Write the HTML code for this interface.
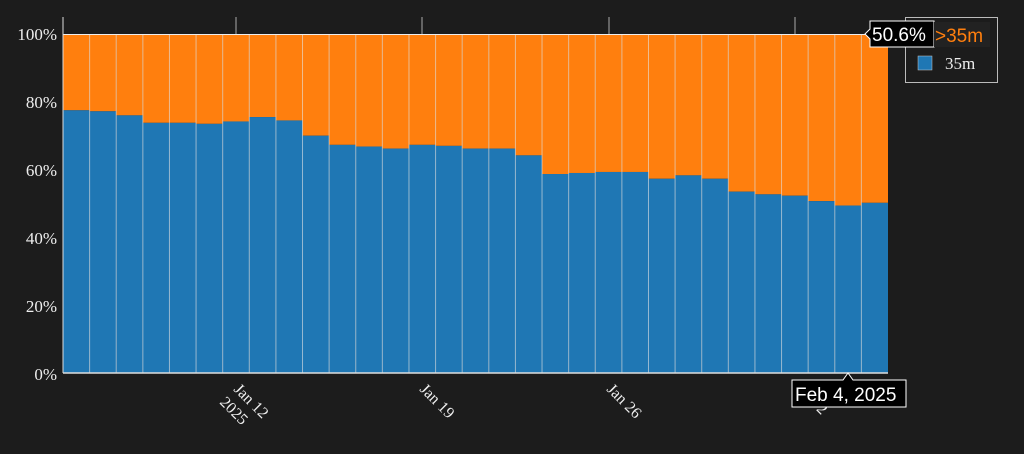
<!DOCTYPE html>
<html><head><meta charset="utf-8"><style>
html,body{margin:0;padding:0;background:#1c1c1c;width:1024px;height:454px;overflow:hidden}
text{font-family:"Liberation Serif",serif;fill:#eee}
</style></head><body>
<svg id="s" width="1024" height="454" xmlns="http://www.w3.org/2000/svg">
<rect width="1024" height="454" fill="#1c1c1c"/>
<g id="bars"></g>
<line x1="63" y1="17" x2="63" y2="373" stroke="#ddd" stroke-width="1"/>
<line x1="63" y1="373" x2="888" y2="373" stroke="#ddd" stroke-width="1.5"/>
<g stroke="#aaa" stroke-width="1">
<line x1="236" y1="17" x2="236" y2="34"/><line x1="422" y1="17" x2="422" y2="34"/>
<line x1="609" y1="17" x2="609" y2="34"/><line x1="795" y1="17" x2="795" y2="34"/>
</g>
<g font-size="17" text-anchor="end">
<text x="57" y="40">100%</text><text x="57" y="108">80%</text><text x="57" y="176">60%</text>
<text x="57" y="244">40%</text><text x="57" y="312">20%</text><text x="57" y="380">0%</text>
</g>
<g font-size="16">
<text transform="translate(233,390) rotate(45)">Jan 12</text>
<text transform="translate(219,403) rotate(45)">2025</text>
<text transform="translate(419,390) rotate(45)">Jan 19</text>
<text transform="translate(606,390) rotate(45)">Jan 26</text>
<text transform="translate(796,390) rotate(45)">Feb 2</text>
</g>
<rect x="905.5" y="17.5" width="92" height="65" fill="#1c1c1c" stroke="#bbb"/>
<rect x="918" y="56" width="14" height="14" fill="#1f77b4" stroke="#ccc" stroke-width="0.5"/>
<text x="945" y="69" font-size="17">35m</text>
<path d="M865,34 L870,29 L870,21 L934,21 L934,47 L870,47 L870,39 Z" fill="#000" stroke="#fff" stroke-width="1"/>
<text x="872" y="41" font-size="19" style="font-family:'Liberation Sans',sans-serif;fill:#fff">50.6%</text>
<rect x="934" y="22" width="56" height="25" fill="#222"/>
<text x="935" y="42" font-size="19" style="font-family:'Liberation Sans',sans-serif;fill:#ff7f0e">&gt;35m</text>
<path d="M848,373 L843,380 L792,380 L792,407 L906,407 L906,380 L853,380 Z" fill="#000" stroke="#fff" stroke-width="1"/>
<text x="795" y="401" font-size="19" style="font-family:'Liberation Sans',sans-serif;fill:#fff">Feb 4, 2025</text>
</svg>
<script>
var v=[77.5,77.2,76,73.8,73.8,73.5,74.2,75.5,74.5,70,67.3,66.8,66.2,67.3,67,66.2,66.2,64.2,58.7,59,59.3,59.3,57.3,58.3,57.3,53.5,52.7,52.3,50.7,49.4,50.2];
var g=document.getElementById('bars'),w=825/31,h='';
for(var i=0;i<31;i++){var x=63+w*i,y=373-v[i]*3.39;
h+='<rect x="'+x+'" y="34" width="'+w+'" height="'+(y-34)+'" fill="#ff7f0e"/>';
h+='<rect x="'+x+'" y="'+y+'" width="'+w+'" height="'+(373-y)+'" fill="#1f77b4"/>';
if(i>0)h+='<line x1="'+x+'" y1="34" x2="'+x+'" y2="373" stroke="#e8e8e8" stroke-opacity="0.6" stroke-width="1"/>';}
h+='<line x1="63" y1="34.5" x2="888" y2="34.5" stroke="#eee" stroke-width="1"/>';
g.innerHTML=h;
</script>
</body></html>
